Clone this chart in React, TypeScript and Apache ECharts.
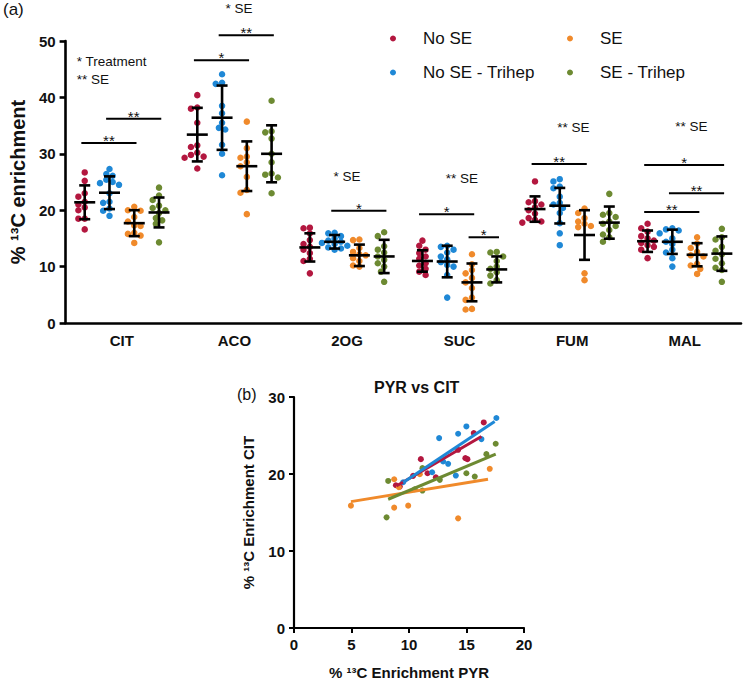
import React, { useEffect, useRef } from 'react';
import * as echarts from 'echarts';

// ---------------- DATA ----------------
const CATEGORIES = ['CIT', 'ACO', '2OG', 'SUC', 'FUM', 'MAL'];
const GROUPS = ['No SE', 'No SE - Trihep', 'SE', 'SE - Trihep'];
const COLORS = ['#b3173f', '#1f88d6', '#f08a2b', '#6d8a32'];

// Panel (a): individual values, one array per metabolite (CIT, ACO, 2OG, SUC, FUM, MAL)
const NO_SE_VALUES = [
  [26.7, 25.2, 23.0, 22.4, 21.5, 21.0, 20.5, 20.0, 18.5, 18.5, 16.6],
  [40.4, 38.2, 38.0, 35.5, 31.5, 31.2, 30.2, 29.8, 29.5, 29.3, 27.4],
  [16.9, 16.8, 15.9, 14.7, 14.0, 13.5, 13.0, 12.4, 11.4, 11.0, 8.8],
  [14.6, 13.7, 13.0, 12.4, 11.8, 11.4, 10.6, 10.2, 9.6, 9.1, 8.5],
  [25.1, 21.6, 21.4, 21.0, 20.5, 20.0, 19.4, 18.6, 18.3, 18.0, 17.8],
  [17.6, 16.8, 16.2, 15.4, 15.0, 14.6, 14.2, 13.8, 13.5, 13.0, 11.5],
];
const NO_SE_TRIHEP_VALUES = [
  [27.3, 26.4, 26.1, 25.4, 25.0, 24.8, 24.5, 23.0, 21.5, 21.3, 20.3, 19.9, 19.0],
  [44.1, 42.6, 42.4, 38.5, 37.2, 35.5, 34.6, 34.3, 31.6, 30.0, 26.2],
  [16.0, 15.9, 15.4, 15.0, 14.6, 14.4, 14.2, 14.0, 13.7, 13.4, 13.2, 13.0],
  [13.7, 13.5, 13.0, 12.5, 11.8, 11.3, 10.8, 10.3, 10.0, 8.5, 4.5],
  [25.5, 25.1, 24.2, 23.9, 22.4, 21.3, 21.0, 20.4, 19.5, 17.7, 15.9, 13.8],
  [16.8, 16.6, 16.4, 15.9, 15.0, 14.4, 14.0, 13.0, 12.5, 11.5, 10.0],
];
const SE_VALUES = [
  [20.6, 20.0, 19.9, 18.8, 18.0, 17.3, 17.2, 16.0, 15.8, 15.5, 14.2],
  [35.7, 31.0, 29.5, 29.3, 28.5, 27.8, 25.9, 23.6, 23.1, 19.3],
  [14.8, 14.7, 13.3, 12.6, 12.2, 12.0, 11.5, 11.0, 10.2, 10.0],
  [12.2, 10.4, 9.4, 8.8, 8.0, 7.2, 6.2, 4.5, 4.1, 2.5, 2.4],
  [20.3, 19.5, 18.6, 18.0, 17.6, 17.2, 17.0, 8.8, 7.6],
  [15.2, 14.1, 13.3, 12.6, 12.0, 11.8, 10.5, 10.2, 9.6, 8.7],
];
const SE_TRIHEP_VALUES = [
  [24.0, 22.6, 21.8, 20.8, 20.4, 20.0, 19.5, 18.6, 18.2, 17.6, 14.3],
  [39.4, 34.0, 33.8, 32.7, 30.0, 28.5, 26.5, 26.3, 25.8, 23.0],
  [16.1, 15.4, 13.6, 13.0, 12.5, 11.8, 11.2, 10.6, 10.0, 9.1, 7.3],
  [12.6, 12.5, 11.8, 11.0, 10.0, 9.6, 9.0, 8.4, 7.6, 7.0],
  [22.9, 19.5, 19.2, 18.8, 18.0, 17.6, 17.2, 16.5, 15.7, 15.2, 14.4],
  [16.7, 15.2, 14.8, 13.5, 12.8, 12.2, 11.4, 10.6, 9.8, 9.4, 7.3],
];

// Mean and SD (error bars) per metabolite
const NO_SE_MEAN = [21.4, 33.4, 13.4, 11.0, 20.2, 14.5];
const NO_SE_SD = [3.0, 4.75, 2.5, 1.9, 2.25, 1.9];
const NO_SE_TRIHEP_MEAN = [23.1, 36.4, 14.4, 10.9, 20.8, 14.4];
const NO_SE_TRIHEP_SD = [2.9, 5.7, 1.2, 2.8, 3.15, 2.15];
const SE_MEAN = [17.7, 27.8, 12.0, 7.2, 15.6, 12.1];
const SE_SD = [2.3, 4.4, 1.9, 3.35, 4.4, 2.05];
const SE_TRIHEP_MEAN = [19.6, 30.0, 11.8, 9.5, 17.8, 12.3];
const SE_TRIHEP_SD = [2.65, 5.05, 2.95, 2.3, 2.85, 3.05];

// Significance brackets: [category index, from group, to group, y level, stars]
const SIG_BRACKETS: [number, number, number, number, string][] = [
  [0, 0, 2, 31.9, '**'],
  [0, 1, 3, 36.2, '**'],
  [1, 0, 2, 46.6, '*'],
  [1, 1, 3, 51.0, '**'],
  [2, 1, 3, 19.9, '*'],
  [3, 0, 2, 19.3, '*'],
  [3, 2, 3, 15.2, '*'],
  [4, 0, 2, 28.2, '**'],
  [5, 0, 3, 28.0, '*'],
  [5, 1, 3, 23.0, '**'],
  [5, 0, 2, 19.7, '**'],
];

// Effect notes: [x (category units), y level, text, align]
const EFFECT_NOTES: [number, number, string, string][] = [
  [0.1, 46.3, '* Treatment', 'left'],
  [0.1, 43.1, '** SE', 'left'],
  [1.54, 55.85, '* SE', 'center'],
  [2.5, 25.9, '* SE', 'center'],
  [3.52, 25.7, '** SE', 'center'],
  [4.51, 34.75, '** SE', 'center'],
  [5.56, 34.9, '** SE', 'center'],
];

// Panel (b): PYR (x) vs CIT (y) enrichment
const PYR_CIT_NO_SE = [[8.86, 18.54], [9.2, 18.37], [10.36, 19.76], [11.03, 21.93], [11.61, 20.1], [12.33, 19.58], [14.27, 23.14], [14.9, 22.06], [15.08, 21.93], [15.63, 25.31], [16.5, 26.7]];
const PYR_CIT_NO_SE_TRIHEP = [[9.49, 18.93], [12.01, 20.23], [12.62, 24.66], [12.97, 21.62], [13.4, 21.32], [14.07, 19.8], [14.27, 25.23], [14.99, 26.18], [16.3, 24.53], [17.6, 27.27]];
const PYR_CIT_SE = [[4.95, 15.89], [8.71, 19.32], [8.71, 15.63], [9.12, 18.28], [9.93, 15.89], [10.94, 19.97], [14.27, 14.24], [17.02, 20.67]];
const PYR_CIT_SE_TRIHEP = [[8.19, 19.1], [8.05, 14.37], [10.5, 18.02], [11.17, 20.76], [11.17, 17.85], [12.68, 19.24], [14.99, 20.1], [15.72, 19.67], [16.73, 22.58], [17.54, 23.93]];

// Fitted regression lines (end points)
const FIT_NO_SE = [[8.9, 18.45], [16.3, 24.88]];
const FIT_NO_SE_TRIHEP = [[9.49, 18.9], [17.45, 26.83]];
const FIT_SE = [[4.95, 16.41], [16.87, 19.32]];
const FIT_SE_TRIHEP = [[8.19, 16.72], [17.54, 22.58]];

// ---------------- LAYOUT CONSTANTS ----------------
const FONT = '"Liberation Sans", Arial, Helvetica, sans-serif';
const GRID_A = { left: 60, top: 41, width: 681, height: 282 };
const GRID_B = { left: 294, top: 397, width: 230, height: 231 };
const GROUP_OFFSETS = [-0.33, -0.11, 0.11, 0.33];
const PX_PER_Y = GRID_A.height / 50;
const PX_PER_CAT = GRID_A.width / 6;
const DOT = 6.5;

// deterministic beeswarm layout (horizontal dodge of overlapping dots)
function swarm(values: number[], center: number) {
  const placed: { x: number; y: number }[] = [];
  const order = values.map((_, i) => i).sort((a, b) => values[b] - values[a]);
  const out: number[][] = new Array(values.length);
  const step = 3.2;
  const minDist = 5.6;
  for (const i of order) {
    const y = values[i] * PX_PER_Y;
    let chosen = 0;
    for (let k = 0; k < 30; k++) {
      const off = k === 0 ? 0 : (k % 2 ? -1 : 1) * Math.ceil(k / 2) * step;
      if (placed.every((p) => Math.hypot(p.x - off, p.y - y) >= minDist)) {
        chosen = off;
        break;
      }
    }
    placed.push({ x: chosen, y });
    out[i] = [center + chosen / PX_PER_CAT, values[i]];
  }
  return out;
}

const GROUP_VALUES = [NO_SE_VALUES, NO_SE_TRIHEP_VALUES, SE_VALUES, SE_TRIHEP_VALUES];
const GROUP_MEANS = [NO_SE_MEAN, NO_SE_TRIHEP_MEAN, SE_MEAN, SE_TRIHEP_MEAN];
const GROUP_SDS = [NO_SE_SD, NO_SE_TRIHEP_SD, SE_SD, SE_TRIHEP_SD];
const SCATTER_B = [PYR_CIT_NO_SE, PYR_CIT_NO_SE_TRIHEP, PYR_CIT_SE, PYR_CIT_SE_TRIHEP];
const FITS_B = [FIT_NO_SE, FIT_NO_SE_TRIHEP, FIT_SE, FIT_SE_TRIHEP];

function buildOption() {
  const series: any[] = [];

  GROUPS.forEach((name, g) => {
    const data: number[][] = [];
    CATEGORIES.forEach((_, c) => {
      swarm(GROUP_VALUES[g][c], c + 0.5 + GROUP_OFFSETS[g]).forEach((p) => data.push(p));
    });
    series.push({
      type: 'scatter',
      name,
      xAxisIndex: 0,
      yAxisIndex: 0,
      data,
      symbolSize: DOT,
      itemStyle: { color: COLORS[g], opacity: 1 },
      z: 2,
    });
  });

  const errData: number[][] = [];
  GROUPS.forEach((_, g) => {
    CATEGORIES.forEach((__, c) => {
      errData.push([c + 0.5 + GROUP_OFFSETS[g], GROUP_MEANS[g][c], GROUP_SDS[g][c]]);
    });
  });
  series.push({
    type: 'custom',
    name: 'errorbars',
    xAxisIndex: 0,
    yAxisIndex: 0,
    clip: false,
    z: 5,
    encode: { x: 0, y: 1 },
    data: errData,
    renderItem: (_p: any, api: any) => {
      const x = api.value(0);
      const m = api.value(1);
      const s = api.value(2);
      const pm = api.coord([x, m]);
      const pt = api.coord([x, m + s]);
      const pb = api.coord([x, m - s]);
      const style = { stroke: '#000', lineWidth: 2.6 };
      return {
        type: 'group',
        children: [
          { type: 'line', shape: { x1: pm[0], y1: pt[1], x2: pm[0], y2: pb[1] }, style },
          { type: 'line', shape: { x1: pm[0] - 5.5, y1: pt[1], x2: pm[0] + 5.5, y2: pt[1] }, style },
          { type: 'line', shape: { x1: pm[0] - 5.5, y1: pb[1], x2: pm[0] + 5.5, y2: pb[1] }, style },
          { type: 'line', shape: { x1: pm[0] - 10.5, y1: pm[1], x2: pm[0] + 10.5, y2: pm[1] }, style },
        ],
      };
    },
  });

  series.push({
    type: 'custom',
    name: 'brackets',
    xAxisIndex: 0,
    yAxisIndex: 0,
    clip: false,
    z: 5,
    encode: { x: [0, 1], y: 2 },
    data: SIG_BRACKETS.map(([c, g1, g2, y]) => [
      c + 0.5 + GROUP_OFFSETS[g1] - 0.03,
      c + 0.5 + GROUP_OFFSETS[g2] + 0.02,
      y,
    ]),
    renderItem: (p: any, api: any) => {
      const a = api.coord([api.value(0), api.value(2)]);
      const b = api.coord([api.value(1), api.value(2)]);
      const label = SIG_BRACKETS[p.dataIndex][4];
      return {
        type: 'group',
        children: [
          { type: 'line', shape: { x1: a[0], y1: a[1], x2: b[0], y2: b[1] }, style: { stroke: '#000', lineWidth: 2 } },
          {
            type: 'text',
            x: (a[0] + b[0]) / 2,
            y: a[1] + 5,
            style: { text: label, fill: '#111', font: `15px ${FONT}`, textAlign: 'center', textVerticalAlign: 'bottom' },
          },
        ],
      };
    },
  });

  series.push({
    type: 'custom',
    name: 'notes',
    xAxisIndex: 0,
    yAxisIndex: 0,
    clip: false,
    z: 5,
    encode: { x: 0, y: 1 },
    data: EFFECT_NOTES.map(([x, y]) => [x, y]),
    renderItem: (p: any, api: any) => {
      const pt = api.coord([api.value(0), api.value(1)]);
      const note = EFFECT_NOTES[p.dataIndex];
      return {
        type: 'text',
        x: pt[0],
        y: pt[1],
        style: { text: note[2], fill: '#111', font: `13.5px ${FONT}`, textAlign: note[3], textVerticalAlign: 'middle' },
      };
    },
  });

  GROUPS.forEach((name, g) => {
    series.push({
      type: 'scatter',
      name,
      xAxisIndex: 2,
      yAxisIndex: 1,
      data: SCATTER_B[g],
      symbolSize: 6,
      itemStyle: { color: COLORS[g], opacity: 1 },
      z: 2,
    });
    series.push({
      type: 'line',
      name: name + ' fit',
      xAxisIndex: 2,
      yAxisIndex: 1,
      data: FITS_B[g],
      showSymbol: false,
      symbol: 'none',
      lineStyle: { color: COLORS[g], width: 3 },
      itemStyle: { color: COLORS[g] },
      z: 3,
    });
  });

  const axisLineA = { show: true, lineStyle: { color: '#000', width: 2.6 } };
  const axisLineB = { show: true, lineStyle: { color: '#000', width: 2.2 } };
  const legendBase = {
    orient: 'vertical',
    top: 25,
    itemWidth: 50,
    itemHeight: 6,
    itemGap: 17,
    icon: 'circle',
    selectedMode: false,
    textStyle: { fontFamily: FONT, fontSize: 17, color: '#111' },
  };

  return {
    animation: false,
    backgroundColor: '#fff',
    textStyle: { fontFamily: FONT },
    title: {
      text: 'PYR vs CIT',
      left: 374,
      top: 379,
      padding: 0,
      textStyle: { fontFamily: FONT, fontSize: 16, fontWeight: 'bold', color: '#111' },
    },
    legend: [
      { ...legendBase, data: ['No SE', 'No SE - Trihep'], left: 385 },
      { ...legendBase, data: ['SE', 'SE - Trihep'], left: 562 },
    ],
    grid: [
      { ...GRID_A, containLabel: false },
      { ...GRID_B, containLabel: false },
    ],
    xAxis: [
      { type: 'value', gridIndex: 0, min: 0, max: 6, show: false },
      {
        type: 'category',
        gridIndex: 0,
        data: CATEGORIES,
        position: 'bottom',
        boundaryGap: true,
        axisLine: axisLineA,
        axisTick: { show: false },
        splitLine: { show: false },
        axisLabel: { fontFamily: FONT, fontSize: 15, fontWeight: 'bold', color: '#111', margin: 10 },
      },
      {
        type: 'value',
        gridIndex: 1,
        min: 0,
        max: 20,
        interval: 5,
        name: '% ¹³C Enrichment PYR',
        nameLocation: 'middle',
        nameGap: 37,
        nameTextStyle: { fontFamily: FONT, fontSize: 15, fontWeight: 'bold', color: '#111' },
        axisLine: axisLineB,
        axisTick: { show: true, length: 5, lineStyle: { color: '#000', width: 2 } },
        splitLine: { show: false },
        axisLabel: { fontFamily: FONT, fontSize: 15, fontWeight: 'bold', color: '#111', margin: 9 },
      },
    ],
    yAxis: [
      {
        type: 'value',
        gridIndex: 0,
        min: 0,
        max: 50,
        interval: 10,
        name: '% ¹³C enrichment',
        nameLocation: 'middle',
        nameRotate: 90,
        nameGap: 28,
        nameTextStyle: { fontFamily: FONT, fontSize: 20, fontWeight: 'bold', color: '#111' },
        axisLine: axisLineA,
        axisTick: { show: true, length: 6, lineStyle: { color: '#000', width: 2.6 } },
        splitLine: { show: false },
        axisLabel: { fontFamily: FONT, fontSize: 15, fontWeight: 'bold', color: '#111', margin: 10 },
      },
      {
        type: 'value',
        gridIndex: 1,
        min: 0,
        max: 30,
        interval: 10,
        name: '% ¹³C Enrichment CIT',
        nameLocation: 'middle',
        nameRotate: 90,
        nameGap: 38,
        nameTextStyle: { fontFamily: FONT, fontSize: 15, fontWeight: 'bold', color: '#111' },
        axisLine: axisLineB,
        axisTick: { show: true, length: 5, lineStyle: { color: '#000', width: 2 } },
        splitLine: { show: false },
        axisLabel: { fontFamily: FONT, fontSize: 15, fontWeight: 'bold', color: '#111', margin: 9 },
      },
    ],
    graphic: [
      { type: 'text', left: 3, top: 1, style: { text: '(a)', font: `17px ${FONT}`, fill: '#111' } },
      { type: 'text', left: 237, top: 386, style: { text: '(b)', font: `16px ${FONT}`, fill: '#111' } },
    ],
    series,
  };
}

export default function App() {
  const ref = useRef<HTMLDivElement>(null);
  useEffect(() => {
    if (!ref.current) return;
    const chart = echarts.init(ref.current, undefined, { renderer: 'svg' });
    chart.setOption(buildOption() as any);
    return () => chart.dispose();
  }, []);
  return <div ref={ref} style={{ width: 743, height: 685, position: 'absolute', left: 0, top: 0 }} />;
}
